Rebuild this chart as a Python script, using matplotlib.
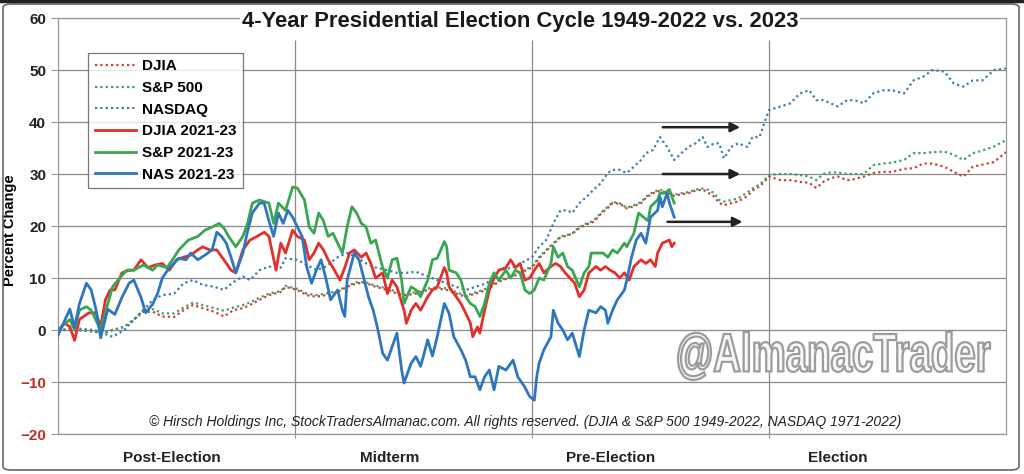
import matplotlib
matplotlib.use("Agg")
import matplotlib.pyplot as plt
from matplotlib.patches import FancyBboxPatch, PathPatch
from matplotlib.textpath import TextPath
from matplotlib.font_manager import FontProperties
from matplotlib.transforms import Affine2D, IdentityTransform

plt.rcParams['font.family'] = ['Liberation Sans', 'DejaVu Sans']

# x = years into the 4-year cycle, y = percent change
nas_x = [0.00, 0.03, 0.05, 0.07, 0.09, 0.12, 0.14, 0.16, 0.18, 0.21, 0.24, 0.27, 0.30, 0.32, 0.35, 0.37,
         0.40, 0.42, 0.44, 0.47, 0.51, 0.54, 0.56, 0.59, 0.62, 0.65, 0.67, 0.69, 0.71, 0.73, 0.75, 0.78,
         0.80, 0.82, 0.85, 0.87, 0.89, 0.91, 0.93, 0.95, 0.97, 0.99, 1.03, 1.05, 1.07, 1.09, 1.11, 1.13,
         1.15, 1.18, 1.20, 1.21, 1.22, 1.25, 1.27, 1.29, 1.31, 1.33, 1.35, 1.37, 1.39, 1.41, 1.43, 1.45,
         1.46, 1.49, 1.51, 1.53, 1.56, 1.58, 1.60, 1.63, 1.65, 1.67, 1.70, 1.72, 1.74, 1.76, 1.78, 1.80,
         1.82, 1.84, 1.86, 1.89, 1.92, 1.94, 1.97, 1.99, 2.01, 2.02, 2.03, 2.05, 2.08, 2.09, 2.11, 2.13,
         2.15, 2.17, 2.20, 2.22, 2.24, 2.27, 2.29, 2.31, 2.32, 2.34, 2.36, 2.39, 2.40, 2.42, 2.44, 2.46,
         2.48, 2.50, 2.53, 2.54, 2.55, 2.57, 2.58, 2.60]
nas_y = [-1, 2, 4, 0.5, 5, 9, 7.7, 4, -1.5, 4, 3, 6.3, 9, 9.6, 6.3, 3.3,
         5, 7, 10, 12, 13.8, 13.5, 14.8, 13.5, 14.4, 15.4, 18.8, 18, 16.7, 14, 11, 14.8,
         19, 22.5, 24.4, 24.4, 21, 18, 22.5, 20.5, 23, 21.7, 18, 12, 9, 11.5, 13.5, 10,
         5.8, 7.7, 3.8, 2.6, 9.6, 14.8, 13.5, 10, 6.4, 3.8, 0, -4.5, -5.8, -3.2, -0.6, -7.7,
         -10.2, -6.4, -5.1, -7, -1.9, -5, -1.3, 5.1, 3.2, -1.3, -3.8, -5.8, -9, -9, -11.5, -9,
         -7.7, -11.5, -7, -7.7, -5.8, -9, -11, -12.8, -13.5, -9, -6.4, -3.8, -1.3, 3.8, 1.3, 0,
         -1.9, -0.6, -5.1, 0, 3.8, 3.3, 4.5, 3.8, 1.3, 3.8, 5.8, 7.7, 9.6, 14, 17.3, 18.6,
         16.7, 21.7, 23, 25.6, 23.7, 26.3, 24.4, 21.7]

sp_x = [0.00, 0.03, 0.05, 0.07, 0.09, 0.12, 0.14, 0.18, 0.21, 0.23, 0.26, 0.29, 0.32, 0.36, 0.40, 0.42,
        0.46, 0.49, 0.51, 0.55, 0.59, 0.62, 0.65, 0.68, 0.70, 0.72, 0.75, 0.78, 0.80, 0.82, 0.85, 0.87,
        0.89, 0.91, 0.93, 0.96, 0.99, 1.01, 1.04, 1.06, 1.08, 1.10, 1.12, 1.14, 1.16, 1.18, 1.20, 1.22,
        1.24, 1.26, 1.28, 1.30, 1.32, 1.34, 1.37, 1.39, 1.41, 1.43, 1.45, 1.46, 1.49, 1.51, 1.53, 1.56,
        1.58, 1.60, 1.63, 1.64, 1.65, 1.68, 1.70, 1.72, 1.74, 1.76, 1.78, 1.80, 1.82, 1.84, 1.86, 1.89,
        1.91, 1.93, 1.95, 1.97, 1.99, 2.01, 2.03, 2.05, 2.08, 2.09, 2.11, 2.13, 2.15, 2.17, 2.20, 2.22,
        2.24, 2.25, 2.28, 2.30, 2.32, 2.34, 2.36, 2.39, 2.40, 2.43, 2.45, 2.47, 2.49, 2.50, 2.53, 2.54,
        2.56, 2.58, 2.60]
sp_y = [0, 1.3, 2, 0, 3.8, 4.5, 3.8, 0, 5, 8.3, 10, 11.5, 11.5, 12.5, 11.5, 12.5,
        12, 14, 15.4, 17.3, 18, 19.2, 19.8, 20.5, 19.6, 18, 16, 18, 20.5, 24.4, 25, 24.7,
        24.4, 20.5, 24.4, 23, 27.5, 27.3, 25, 19.8, 18.6, 22.5, 21, 18, 18.6, 16.7, 14.8, 19.8,
        23.7, 22.5, 20.5, 19.8, 16.7, 17.3, 12, 10, 13.5, 13.8, 9.6, 5.1, 8.3, 7.7, 6.4, 9.6,
        13.5, 13.8, 17, 16, 11.5, 11, 9.6, 6.4, 5.1, 4.5, 2.6, 5.1, 9, 11, 9.6, 11.5,
        10, 11.5, 11, 7.7, 7, 7.7, 10, 9.6, 12.8, 16, 14, 14.8, 12.2, 11.5, 8.3, 11,
        12.2, 14.8, 14.8, 14.8, 14, 15.4, 14.8, 16.7, 16, 18.6, 22.5, 21.7, 21, 23.7, 25, 26.3,
        26.3, 27, 24.4]

dj_x = [0.00, 0.03, 0.05, 0.07, 0.09, 0.13, 0.16, 0.18, 0.20, 0.22, 0.24, 0.27, 0.30, 0.32, 0.35, 0.38,
        0.41, 0.44, 0.47, 0.50, 0.53, 0.56, 0.59, 0.61, 0.64, 0.67, 0.70, 0.73, 0.75, 0.78, 0.81, 0.84,
        0.87, 0.89, 0.92, 0.94, 0.96, 0.99, 1.01, 1.04, 1.06, 1.08, 1.10, 1.12, 1.14, 1.16, 1.19, 1.21,
        1.23, 1.25, 1.28, 1.30, 1.32, 1.34, 1.37, 1.39, 1.41, 1.43, 1.46, 1.47, 1.49, 1.51, 1.53, 1.56,
        1.58, 1.60, 1.63, 1.64, 1.65, 1.68, 1.70, 1.72, 1.74, 1.75, 1.77, 1.78, 1.80, 1.82, 1.84, 1.86,
        1.89, 1.91, 1.93, 1.95, 1.97, 1.99, 2.01, 2.03, 2.05, 2.08, 2.10, 2.12, 2.14, 2.16, 2.18, 2.20,
        2.22, 2.24, 2.27, 2.29, 2.31, 2.33, 2.35, 2.37, 2.39, 2.41, 2.43, 2.46, 2.48, 2.50, 2.52, 2.53,
        2.55, 2.58, 2.59, 2.60]
dj_y = [0, 1.3, 0.6, -2, 2, 3.3, 3.3, 0.6, 5.8, 7.7, 7.7, 11, 11.5, 11.5, 13.5, 12,
        12.5, 12.8, 11.5, 13.5, 14, 14.4, 15.4, 16, 15.4, 15.4, 13.5, 11.5, 11, 15.4, 17.3, 18,
        18.8, 18, 11.5, 16.7, 14.8, 19.2, 18, 17.3, 13.5, 14.8, 16.7, 15.4, 13.5, 12, 9.6, 12,
        14.8, 15.4, 14, 14.8, 12.8, 10, 11, 7, 9.6, 8.3, 3.8, 1.3, 3.8, 5.1, 3.8, 6.4,
        7.7, 8.3, 12, 11, 8.3, 6.4, 5.1, 3.3, 1.3, -1.3, 0.6, -0.6, 3.8, 7.7, 10, 11.5,
        12, 13.5, 12, 12.8, 9.6, 10, 11.5, 12.8, 11, 12.2, 12.8, 12.2, 11, 10, 9, 6.4,
        7.7, 11, 12.2, 11.5, 12.2, 11.5, 11, 10, 11, 9.6, 12.2, 13.5, 12.8, 13.5, 12.2, 14.8,
        16.7, 17.3, 16, 16.7]

# historical averages
avg_x = [0.00, 0.08, 0.15, 0.19, 0.23, 0.28, 0.32, 0.36, 0.40, 0.44, 0.49, 0.53, 0.57, 0.61, 0.66, 0.70,
         0.74, 0.78, 0.81, 0.85, 0.89, 0.94, 0.96, 1.01, 1.05, 1.09, 1.13, 1.18, 1.22, 1.26, 1.30, 1.34,
         1.39, 1.43, 1.47, 1.51, 1.56, 1.60, 1.64, 1.68, 1.72, 1.81, 1.86, 1.92, 1.98, 2.00, 2.03, 2.06,
         2.09, 2.12, 2.15, 2.17, 2.20, 2.23, 2.26, 2.29, 2.32, 2.34, 2.37, 2.40, 2.43, 2.46, 2.48, 2.51,
         2.54, 2.57, 2.60, 2.63, 2.66, 2.69, 2.72, 2.74, 2.77, 2.79, 2.81, 2.84, 2.87, 2.91, 2.93, 2.96,
         2.98, 3.00, 3.05, 3.09, 3.13, 3.17, 3.20, 3.23, 3.26, 3.29, 3.33, 3.36, 3.40, 3.44, 3.48, 3.52,
         3.57, 3.61, 3.65, 3.69, 3.74, 3.78, 3.82, 3.86, 3.90, 3.95, 4.00]
nasdaq_avg = [0, 0.3, 0, -0.6, -1.3, 0, 2, 3.8, 5.8, 6.7, 7, 9, 9.6, 8.7, 8.3, 7.7,
              9.2, 10.3, 9.6, 11.5, 12.2, 12, 13.8, 13.5, 12.5, 11.5, 12.2, 14, 14.8, 14, 12.8, 12,
              11.5, 11, 11, 11.2, 10.3, 9.6, 9, 8.3, 7.7, 9, 11.5, 12, 13.5, 14, 16, 17.3,
              20.5, 23, 23, 22.5, 24.4, 25.6, 27, 28.2, 30.2, 30.8, 30.8, 30.2, 31.4, 32.7, 34, 34.6,
              37.1, 35.2, 32.7, 34, 35.2, 35.9, 37.1, 35.2, 35.9, 35.9, 33, 35.2, 35.9, 35.2, 37.1, 37.1,
              39.8, 42.3, 43, 43.6, 45.5, 46.1, 44.2, 44.2, 43.6, 43, 44.2, 44.2, 43.6, 45.5, 46.1, 46.1,
              45.5, 48, 48.7, 50, 49.7, 47.4, 46.8, 48, 48, 50, 50.3]
sp500_avg = [0, 0, -0.3, -0.6, 0, 0.6, 2, 3.8, 4, 3.2, 3.2, 4.3, 5.3, 4.8, 4.2, 3.7,
             4.3, 4.8, 5.3, 6.2, 7, 7.5, 8.5, 7.9, 7, 6.7, 7, 7.5, 8.5, 9.2, 9.2, 8.5,
             8, 7.3, 7, 7.3, 8, 8.2, 8, 7.3, 6.6, 8, 9.5, 10.5, 11.8, 12.2, 14, 15.4,
             16.7, 18, 18.3, 18.6, 19.8, 20.5, 21, 22.5, 23.7, 24.6, 24.4, 23.5, 24, 24.6, 25.6, 26.5,
             27, 26.5, 26, 26.3, 26.5, 27, 27.2, 27, 26.3, 25, 24.7, 25, 25.3, 26.5, 27.2, 28,
             28.8, 29.8, 30, 30, 29.8, 29.5, 28.8, 30, 30.3, 30.3, 30, 30, 30, 31.7, 32, 32.2,
             32.7, 34, 34, 34.2, 34.3, 33.7, 32.7, 34, 34.5, 35.3, 36.5]
djia_avg = [0, 0, -0.3, -0.6, 0, 0.6, 2, 3.5, 3.5, 2.6, 2.5, 3.8, 4.8, 4.2, 3.5, 2.6,
            3.8, 4.2, 4.8, 5.8, 6.7, 7.3, 8.3, 7.7, 6.7, 6.4, 6.7, 7.3, 8.3, 9, 9, 8.3,
            7.7, 7, 6.7, 7, 7.7, 8, 7.7, 7, 6.4, 7.7, 9.3, 10.3, 11.6, 12, 13.8, 15.2,
            16.5, 17.8, 18.2, 18.5, 19.6, 20.3, 20.8, 22.3, 23.5, 24.4, 24.3, 23.4, 23.8, 24.4, 25.4, 26.3,
            26.8, 26.3, 25.8, 26.1, 26.3, 26.8, 27, 26.5, 25.6, 24.4, 24, 24.4, 24.7, 25.8, 26.8, 27.6,
            28.5, 29.5, 28.8, 28.8, 28.5, 28.3, 27.3, 28.5, 29.2, 29.5, 28.8, 29, 29.5, 30.2, 30.4, 30.4,
            31, 31.1, 32, 32, 31.4, 30.4, 29.5, 31.4, 31.8, 32.3, 34.2]

phase_labels = ['Post-Election', 'Midterm', 'Pre-Election', 'Election']
phase_pos = [0.48, 1.40, 2.33, 3.29]
yticks = [-20, -10, 0, 10, 20, 30, 40, 50, 60]

RED, GREEN, BLUE = '#e0312b', '#3aa652', '#2f76c0'
RED_D, GREEN_D, BLUE_D = '#c8403a', '#3f9e64', '#3d7bb5'
dot = (0, (1, 1.4))

fig = plt.figure(figsize=(10.24, 4.74), dpi=100)
ax = fig.add_axes([58 / 1024, 1 - 434 / 474, 948 / 1024, 416 / 474])

ax.plot(avg_x, djia_avg, color=RED_D, lw=1.6, ls=dot, label='DJIA', zorder=3)
ax.plot(avg_x, sp500_avg, color=GREEN_D, lw=1.6, ls=dot, label='S&P 500', zorder=3)
ax.plot(avg_x, nasdaq_avg, color=BLUE_D, lw=1.6, ls=dot, label='NASDAQ', zorder=3)
ax.plot(dj_x, dj_y, color=RED, lw=2.0, label='DJIA 2021-23', zorder=3)
ax.plot(sp_x, sp_y, color=GREEN, lw=2.0, label='S&P 2021-23', zorder=3)
ax.plot(nas_x, nas_y, color=BLUE, lw=2.0, label='NAS 2021-23', zorder=3)

ax.set_xlim(0, 4)
ax.set_ylim(-20, 60)
ax.set_yticks(yticks)
ax.set_yticklabels(['\u221220', '\u221210', '0', '10', '20', '30', '40', '50', '60'],
                   fontsize=11, fontweight='bold')
for lab, v in zip(ax.get_yticklabels(), yticks):
    lab.set_color('#c0302a' if v < 0 else '#222222')
ax.set_xticks([1, 2, 3])
ax.set_xticklabels([])
ax.tick_params(axis='both', length=5, color='#999999', width=0.8)
ax.tick_params(axis='x', length=3)
ax.grid(axis='y', color='#8a8a8a', lw=0.9)
ax.vlines([1, 2, 3], -20, 55.8, color='#8a8a8a', lw=0.9, zorder=1)
for s in ax.spines.values():
    s.set_color('#999999')
    s.set_linewidth(0.9)
ax.set_axisbelow(True)

ax.set_ylabel('Percent Change', fontsize=10.5, fontweight='bold')
ax.yaxis.set_label_coords(-0.043, 0.49)
for lab, xp in zip(phase_labels, phase_pos):
    ax.text(xp, -24.6, lab, ha='center', va='center', fontsize=11, fontweight='bold', color='#222222')

# arrows
for x0, x1, yv in [(2.54, 2.89, 39), (2.54, 2.89, 30), (2.56, 2.90, 20.8)]:
    ax.annotate('', xy=(x1, yv), xytext=(x0, yv),
                arrowprops=dict(arrowstyle='-|>', color='#222222', lw=1.8, mutation_scale=14))

leg = ax.legend(loc='upper left', bbox_to_anchor=(0.032, 0.916), borderaxespad=0,
                prop={'weight': 'bold', 'size': 11}, frameon=True, fancybox=False,
                handlelength=2.7, handletextpad=0.4, labelspacing=0.5, borderpad=0.42)
leg.get_frame().set_edgecolor('#555555')
leg.get_frame().set_linewidth(0.9)
leg.set_zorder(5)

ax.text(1.97, -17.6, '\u00a9 Hirsch Holdings Inc, StockTradersAlmanac.com. All rights reserved. '
        '(DJIA & S&P 500 1949-2022, NASDAQ 1971-2022)',
        ha='center', va='center', fontsize=10, style='italic', color='#222222')

# outlined watermark, squeezed into its box (pixels from bottom-left)
tp = TextPath((0, 0), '@AlmanacTrader', size=50,
              prop=FontProperties(family='Liberation Sans', weight='bold'))
ext = tp.get_extents()
wm_tr = Affine2D().translate(-ext.x0, -ext.y0).scale(312 / ext.width, 48 / ext.height).translate(678, 474 - 380)
wm = PathPatch(wm_tr.transform_path(tp), transform=IdentityTransform(), facecolor='#f7f7f7',
               edgecolor='#9c9c9c', lw=1.6, zorder=2, clip_on=False)
ax.add_patch(wm)

fig.text(0.508, 1 - 22 / 474, '4-Year Presidential Election Cycle 1949-2022 vs. 2023',
         ha='center', va='center', fontsize=15.8, fontweight='bold', color='#1a1a1a',
         bbox=dict(facecolor='white', edgecolor='none', pad=1.5))

frame = FancyBboxPatch((3 / 1024, 4 / 474), 1016 / 1024, 466 / 474,
                       boxstyle='round,pad=0,rounding_size=0.008', transform=fig.transFigure,
                       facecolor='none', edgecolor='#666666', lw=1.2)
fig.patches.append(frame)
fig.add_artist(plt.Line2D([0, 1], [0.997, 0.997], color='#222222', lw=2.5, transform=fig.transFigure))

fig.savefig('out.png', dpi=100)
